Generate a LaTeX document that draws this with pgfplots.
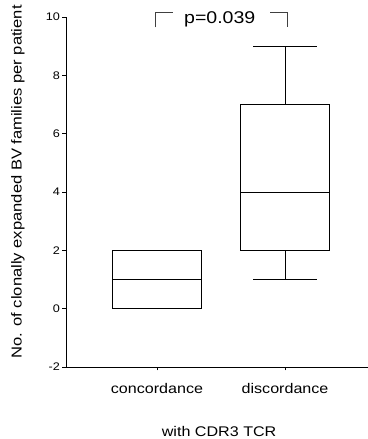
\documentclass[border=0pt]{standalone}
\usepackage{pgfplots}
\pgfplotsset{compat=1.18}
\usepgfplotslibrary{statistics}
\usepackage{fontspec}
\setmainfont{Liberation Sans}[FakeStretch=1.15]
\begin{document}
\begin{tikzpicture}
\useasboundingbox (0,0) rectangle (368bp,439bp);
\begin{axis}[
  at={(66bp,72bp)}, anchor=south west,
  width=302bp, height=350bp, scale only axis,
  xmin=-0.711, xmax=1.648, ymin=-2, ymax=10,
  axis x line=bottom, axis y line=left,
  axis line style={-, line width=0.9bp, black},
  xtick={0,1}, xticklabels={concordance, discordance},
  ytick={-2,0,2,4,6,8,10},
  tick align=outside, major tick length=3.5bp,
  tick style={black, line width=0.7bp},
  /pgf/number format/assume math mode=true,
  yticklabel style={font=\fontsize{11bp}{12bp}\selectfont, xshift=1bp},
  xticklabel style={font=\fontsize{14bp}{16bp}\selectfont, yshift=-9bp},
  xlabel={with CDR3 TCR},
  xlabel style={font=\fontsize{14bp}{16bp}\selectfont, at={(rel axis cs:0.507,-0.183)}, anchor=center},
  ylabel={No. of clonally expanded BV families per patient},
  ylabel style={font=\fontsize{14.4bp}{16bp}\selectfont, at={(rel axis cs:-0.159,0.529)}, anchor=center, rotate=0},
  boxplot/draw direction=y,
  boxplot/box extend=0.7,
  boxplot/whisker extend=0.5,
  clip=false,
]
\addplot[black, line width=0.9bp, boxplot prepared={draw position=0, lower whisker=0, lower quartile=0, median=1, upper quartile=2, upper whisker=2}] coordinates {};
\addplot[black, line width=0.9bp, boxplot prepared={draw position=1, lower whisker=1, lower quartile=2, median=4, upper quartile=7, upper whisker=9}] coordinates {};
\draw[black!75, line width=0.7bp] (axis cs:-0.016,9.64) -- (axis cs:-0.016,10.15) -- (axis cs:0.125,10.15);
\draw[black!75, line width=0.7bp] (axis cs:0.883,10.15) -- (axis cs:1.016,10.15) -- (axis cs:1.016,9.64);
\node[font=\fontsize{17bp}{19bp}\selectfont, anchor=base, inner sep=0pt] at (axis cs:0.49,9.76) {p=0.039};
\end{axis}
\end{tikzpicture}
\end{document}
